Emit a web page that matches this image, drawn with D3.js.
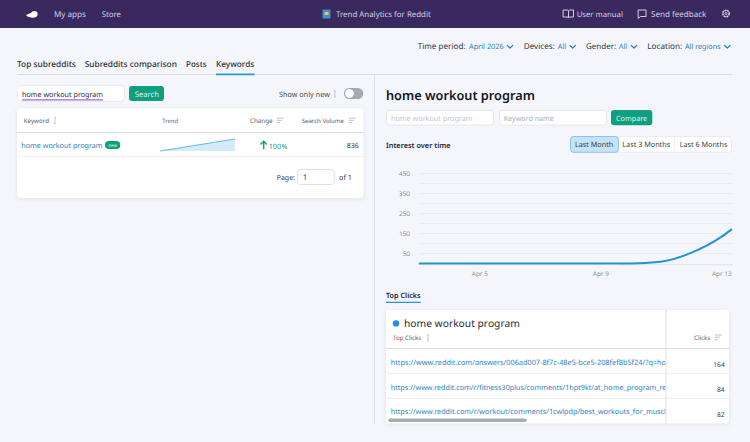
<!DOCTYPE html>
<html><head><meta charset="utf-8">
<script src="https://cdn.jsdelivr.net/npm/d3@7/dist/d3.min.js"></script>
<style>
html,body{margin:0;padding:0;background:#f4f6fb;overflow:hidden}
svg{display:block;font-family:"Noto Sans","Open Sans",sans-serif;text-rendering:geometricPrecision}
.card{filter:drop-shadow(0 1px 2px rgba(40,50,80,.10))}
</style></head><body><svg id="c" width="750" height="442"></svg>
<script>
const navLabels=["My apps","Store"];
const tabLabels=["Top subreddits","Subreddits comparison","Posts","Keywords"];
const filterNames=["Time period:","Devices:","Gender:","Location:"];
const filterValues=["April 2026","All","All","All regions"];
const periodLabels=["Last Month","Last 3 Months","Last 6 Months"];
const trendDates=["2026-04-03","2026-04-04","2026-04-05","2026-04-06","2026-04-07","2026-04-08","2026-04-09","2026-04-10","2026-04-11","2026-04-12","2026-04-13","2026-04-13T08:30"];
const trendValues=[0,0,0,0,0,0,0,0,9,53,133,172];
const yTicks=[50,150,250,350,450];
const yGrid=[50,100,150,200,250,300,350,400,450];
const xTicks=["2026-04-05","2026-04-09","2026-04-13"];
const sparkValues=[0,100];
const clickUrls=["https://www.reddit.com/answers/006ad007-8f7c-48e5-bce5-208fef8b5f24/?q=home","https://www.reddit.com/r/fitness30plus/comments/1hpt9kt/at_home_program_recs","https://www.reddit.com/r/workout/comments/1cwlpdp/best_workouts_for_muscle"];
const clickValues=[164,84,82];

const svg=d3.select("#c");
const txt=(s,x,y,w,fill,o={})=>{
  const t=svg.append("text").attr("x",x).attr("y",y).attr("font-size",10).attr("fill",fill)
    .attr("font-weight",o.w||400).attr("text-anchor",o.a||"start").text(s);
  t.attr("font-size",10*w/t.node().getComputedTextLength());
  return t;
};
const rect=(x,y,w,h,fill,o={})=>svg.append("rect").attr("x",x).attr("y",y).attr("width",w).attr("height",h).attr("fill",fill)
  .attr("rx",o.r||0).attr("stroke",o.s||"none").attr("stroke-width",o.sw||1).attr("class",o.c||null);
const line=(x1,y1,x2,y2,c,w=1)=>svg.append("line").attr("x1",x1).attr("y1",y1).attr("x2",x2).attr("y2",y2).attr("stroke",c).attr("stroke-width",w);
const path=(d,o={})=>svg.append("path").attr("d",d).attr("fill",o.f||"none").attr("stroke",o.s||"none").attr("stroke-width",o.w||1).attr("stroke-linecap","round").attr("stroke-linejoin","round");
const chev=(cx,y)=>path(`M${cx-2.7},${y}l2.7,2.5l2.7,-2.5`,{s:"#2b7fc4",w:1.2});
const sortIcon=(x,y)=>{[7,5,3].forEach((w,i)=>line(x,y+i*2.3,x+w,y+i*2.3,"#b5b9c2",.9));};
const infoIcon=(x,y)=>{line(x,y-3,x,y+3,"#c0c3ca",.9);line(x-1,y-3,x+1,y-3,"#c0c3ca",.9);line(x-1,y+3,x+1,y+3,"#c0c3ca",.9);};

const BLUE="#2e82c4",GREEN="#0f9f7f",HEAD="#d4d0e2",BODY="#3a3e47",SUB="#5a5e67";

/* header */
rect(0,0,750,28,"#39295f");
path("M26,15c2,-1 3,-1 5,-2c1,-2 4,-3 6,-1c1,1 1,4 -1,5c-2,1 -5,1 -7,0c-1,0 -2,-1 -3,-2z",{f:"#fff"});
txt(navLabels[0],54,17,32,HEAD);
txt(navLabels[1],101.7,17,19.3,HEAD);
rect(322.5,9.5,8,9,"#3f8fd0",{r:1});rect(324.5,12,4,3,"#f1c050");
txt("Trend Analytics for Reddit",336,17,95,HEAD);
path("M563.5,10h3.5c1,0 1.5,.7 1.5,1.5c0,-.8 .5,-1.5 1.5,-1.5h3.5v7h-3.5c-1,0 -1.5,.5 -1.5,1c0,-.5 -.5,-1 -1.5,-1h-3.5zM568.5,11.5v6",{s:HEAD});
txt("User manual",576.7,17,46.3,HEAD);
path("M638.5,10h7.5v6.5h-5.5l-2,1.7z",{s:HEAD});
txt("Send feedback",651,17,55.5,HEAD);
svg.append("circle").attr("cx",726).attr("cy",13.5).attr("r",3.2).attr("fill","none").attr("stroke",HEAD).attr("stroke-width",1.6).attr("stroke-dasharray","2 .6");
svg.append("circle").attr("cx",726).attr("cy",13.5).attr("r",1).attr("fill","none").attr("stroke",HEAD);

/* filters */
[[417.7,48],[523.7,31.3],[586,30.3],[647.3,35]].forEach((p,i)=>txt(filterNames[i],p[0],49,p[1],"#33373f"));
[[469,34.7],[557.7,8.5],[618.7,8.6],[685,35.7]].forEach((p,i)=>txt(filterValues[i],p[0],49,p[1],BLUE));
[510,572.7,634,727.3].forEach(c=>chev(c,45.5));

/* tabs */
[[17,59],[84.7,92.3],[186,20.7],[216,38.3]].forEach((p,i)=>txt(tabLabels[i],p[0],66.8,p[1],"#2a2e36",{w:500}));
line(17,74.5,732,74.5,"#d9dce3");
line(216,74.4,254.5,74.4,"#2696d6",1.6);
line(374.5,75,374.5,424,"#dfe2e8");

/* search */
rect(17.5,85.5,107,16,"#fff",{r:4,s:"#e9ebf0"});
txt("home workout program",22,97,81.3,"#2a2e36");
line(22,99.8,103,99.8,"#a765e0",1.3);
rect(129,86,35,15,GREEN,{r:3});
txt("Search",134.7,96.5,24.3,"#d9f4ec");
txt("Show only new",279,97,51,"#4a4e57");
infoIcon(335,94);
rect(344,88,19.3,11,"#a6a9b0",{r:5.5});
svg.append("circle").attr("cx",349.5).attr("cy",93.5).attr("r",4.4).attr("fill","#fff");

/* keyword card */
rect(17,108.3,346.5,89.7,"#fff",{r:3,c:"card"});
line(17,132.5,363.5,132.5,"#d7dae0");
line(17,156.5,363.5,156.5,"#f0f1f5");
txt("Keyword",23.7,122.8,25.3,SUB);infoIcon(55,120.5);
txt("Trend",162.3,122.8,15.7,SUB);
txt("Change",250,122.8,22.7,SUB);sortIcon(277,118);
txt("Search Volume",301.7,122.8,42.3,SUB);sortIcon(349,118);
txt("home workout program",21.3,148.3,81.4,BLUE);
rect(105,141,15.3,8,GREEN,{r:4});
txt("new",108.3,147,8.7,"#e6f8f2");

const sx=d3.scaleLinear().domain([0,sparkValues.length-1]).range([160,235]);
const sy=d3.scaleLinear().domain([0,100]).range([151,139]);
svg.append("path").datum(sparkValues).attr("fill","#d3ecf8")
  .attr("d",d3.area().x((d,i)=>sx(i)).y0(sy(0)).y1(d=>sy(d)));
svg.append("path").datum(sparkValues).attr("fill","none").attr("stroke","#69b7d8").attr("stroke-width",1)
  .attr("d",d3.line().x((d,i)=>sx(i)).y(d=>sy(d)));
path("M263.7,148.8v-7.6M261,144l2.7,-2.8l2.7,2.8",{s:GREEN,w:1.4});
txt("100%",268.7,148.6,18.6,GREEN);
txt("836",346.7,148.3,12.3,BODY);
txt("Page:",276.7,180,18.3,BODY);
rect(297.5,169.5,36.8,15,"#fff",{r:3,s:"#dcdfe5"});
txt("1",302.7,180,4.6,BODY);
txt("of 1",339,180,13,BODY);

/* right panel */
txt("home workout program",386,100,149,"#14171d",{w:600});
rect(386.5,110.5,107,14.5,"#fff",{r:3,s:"#e6e8ed"});
txt("home workout program",391,121.3,81.7,"#c3c6cd");
rect(499.5,110.5,107,14.5,"#fff",{r:3,s:"#e6e8ed"});
txt("Keyword name",503.7,121.3,50.3,"#a9adb5");
rect(611,110,41.3,15.3,GREEN,{r:3});
txt("Compare",616,121,31.3,"#d9f4ec");
txt("Interest over time",386,147.5,64.7,"#1f2430",{w:600});

rect(570.5,136.5,161,15.8,"#fff",{r:3,s:"#e9ebf0"});
rect(570.5,136.5,48,15.8,"#c4e3f7",{r:3,s:"#8cc4e8"});
line(674.7,137,674.7,152,"#e9ebf0");
[[575,38.3],[622.3,48],[679.7,47.7]].forEach((p,i)=>txt(periodLabels[i],p[0],147.3,p[1],BODY));

/* interest chart */
const parse=d3.isoParse;
const x=d3.scaleTime().domain([parse("2026-04-03"),parse("2026-04-13")]).range([418.8,721.3]);
const y=d3.scaleLinear().domain([0,450]).range([263.5,173.5]);
svg.append("g").selectAll("line").data(yGrid).join("line")
  .attr("x1",420).attr("x2",733).attr("y1",d=>y(d)).attr("y2",d=>y(d)).attr("stroke","#eaecf1");
line(620,264.6,733,264.6,"#e4e6ea",1.2);
svg.append("g").attr("transform","translate(410,0)").call(d3.axisLeft(y).tickValues(yTicks).tickSize(0).tickPadding(0))
  .call(g=>g.select(".domain").remove())
  .call(g=>g.selectAll("text").attr("fill","#8b8f98").attr("font-size",6.4).attr("font-family",'"Noto Sans",sans-serif'));
svg.append("g").attr("transform","translate(0,263)").call(d3.axisBottom(x).tickValues(xTicks.map(parse)).tickFormat(d3.timeFormat("%b %-d")).tickSize(0).tickPadding(8))
  .call(g=>g.select(".domain").remove())
  .call(g=>g.selectAll("text").attr("fill","#8b8f98").attr("font-size",6.4).attr("font-family",'"Noto Sans",sans-serif'));
svg.append("path").datum(trendValues).attr("fill","none").attr("stroke","#2592d4").attr("stroke-width",2)
  .attr("d",d3.line().x((d,i)=>x(parse(trendDates[i]))).y(d=>y(d)).curve(d3.curveMonotoneX));

/* top clicks */
txt("Top Clicks",386,297.7,34.7,"#1f2430",{w:600});
line(386,302.4,420.7,302.4,"#2696d6",1.4);
rect(386,310,343,113.5,"#fff",{r:2,c:"card"});
line(386,348.5,729,348.5,"#dcdee3",1.2);
svg.append("circle").attr("cx",396).attr("cy",323.4).attr("r",3.2).attr("fill","#1b8ef0");
txt("home workout program",404,327.2,116,"#2a2e36");
txt("Top Clicks",393,340,28.3,SUB);infoIcon(428,338);
txt("Clicks",694,340,16.3,SUB);sortIcon(715,335);
svg.append("clipPath").attr("id","cl").append("rect").attr("x",386).attr("y",350).attr("width",280).attr("height",74);
[[364.5,73],[389.5,74],[413.5,73]].forEach((r,i)=>{
  const t=svg.append("text").attr("clip-path","url(#cl)").attr("x",390.7).attr("y",r[0]).attr("font-size",10).attr("fill",BLUE).text(clickUrls[i]);
  t.attr("font-size",10*276/t.node().getSubStringLength(0,r[1]));
});
[[713.3,366.5,11.4],[717,391.5,7.6],[717,416.5,7.6]].forEach((p,i)=>txt(clickValues[i],p[0],p[1],p[2],BODY));
line(386,373.7,729,373.7,"#eceef2");
line(386,398.3,729,398.3,"#eceef2");
line(666,310,666,423.5,"#e2e4e9",1.2);
rect(388.3,418.5,138.4,3.6,"#a9abb0",{r:1.8});
</script></body></html>
